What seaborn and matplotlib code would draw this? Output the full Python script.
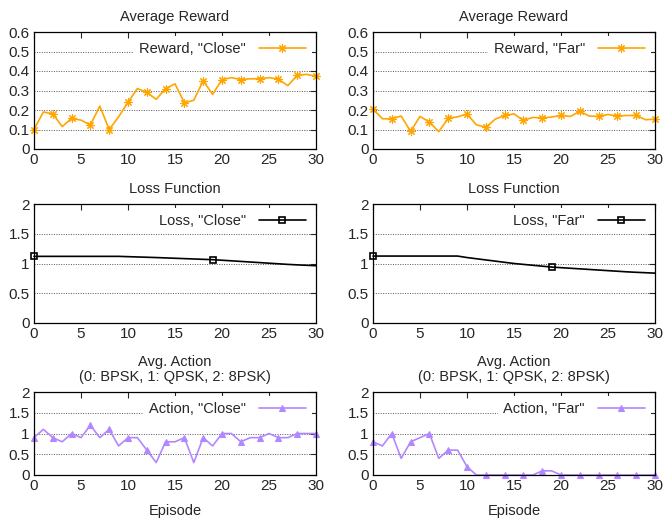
import numpy as np
import matplotlib
matplotlib.use("Agg")
import matplotlib.pyplot as plt
import pandas as pd
import seaborn as sns

episodes = list(range(31))

reward_close = [0.10, 0.19, 0.18, 0.115, 0.157, 0.148, 0.123, 0.22, 0.10, 0.165,
                0.24, 0.31, 0.29, 0.255, 0.31, 0.334, 0.237, 0.25, 0.35, 0.28,
                0.356, 0.366, 0.356, 0.36, 0.36, 0.366, 0.358, 0.325, 0.377, 0.383, 0.373]
reward_far = [0.205, 0.155, 0.155, 0.169, 0.09, 0.167, 0.138, 0.089, 0.157, 0.165,
              0.179, 0.124, 0.111, 0.153, 0.172, 0.18, 0.147, 0.162, 0.159, 0.164,
              0.172, 0.167, 0.193, 0.169, 0.167, 0.177, 0.169, 0.172, 0.172, 0.15, 0.153]

loss_close = [1.12, 1.12, 1.12, 1.12, 1.12, 1.12, 1.12, 1.12, 1.12, 1.12,
              1.115, 1.11, 1.105, 1.10, 1.094, 1.088, 1.082, 1.076, 1.07, 1.064,
              1.055, 1.045, 1.035, 1.025, 1.015, 1.005, 0.995, 0.985, 0.977, 0.97, 0.963]
loss_far = [1.125, 1.125, 1.125, 1.125, 1.125, 1.125, 1.125, 1.125, 1.125, 1.125,
            1.10, 1.08, 1.06, 1.04, 1.02, 1.0, 0.985, 0.97, 0.955, 0.94,
            0.93, 0.92, 0.91, 0.90, 0.89, 0.88, 0.87, 0.86, 0.852, 0.845, 0.838]

action_close = [0.9, 1.1, 0.9, 0.8, 1.0, 0.9, 1.2, 0.9, 1.1, 0.7,
                0.9, 0.9, 0.6, 0.3, 0.8, 0.8, 0.9, 0.3, 0.9, 0.7,
                1.0, 1.0, 0.8, 0.9, 0.9, 1.0, 0.9, 0.9, 1.0, 1.0, 1.0]
action_far = [0.8, 0.7, 1.0, 0.4, 0.8, 0.9, 1.0, 0.4, 0.6, 0.6,
              0.2, 0.0, 0.0, 0.0, 0.0, 0.0, 0.0, 0.0, 0.1, 0.1,
              0.0, 0.0, 0.0, 0.0, 0.0, 0.0, 0.0, 0.0, 0.0, 0.0, 0.0]

sns.set_style("white")
plt.rcParams['font.family'] = ['Liberation Sans', 'DejaVu Sans']
plt.rcParams['font.size'] = 10

orange = '#ffa500'
purple = '#b388ff'

fig = plt.figure(figsize=(6.63, 5.2), dpi=100)

lefts = [34 / 663, 373 / 663]
w = 282 / 663
rows = [(1 - 149 / 520, 117 / 520), (1 - 323 / 520, 119 / 520), (1 - 475 / 520, 83 / 520)]


def style_ax(ax, ymax, ystep, title, xlabel=None):
    ax.set_xlim(0, 30)
    ax.set_ylim(0, ymax)
    ax.set_xticks(range(0, 31, 5))
    yt = np.round(np.arange(0, ymax + ystep / 2, ystep), 2)
    ax.set_yticks(yt)
    ax.set_yticklabels([f"{v:g}" for v in yt])
    ax.tick_params(direction='in', top=True, right=True, length=4, width=0.8,
                   labelsize=11, pad=3)
    ax.yaxis.grid(True, linestyle=(0, (1, 1.5)), color='#555555', linewidth=0.7)
    ax.set_axisbelow(True)
    for s in ax.spines.values():
        s.set_color('black')
        s.set_linewidth(0.9)
    ax.set_title(title, fontsize=10.5, pad=8, linespacing=1.05)
    ax.set_xlabel(xlabel if xlabel else '', fontsize=10.5, labelpad=8)
    ax.set_ylabel('')
    leg = ax.legend(loc='upper right', markerfirst=False, frameon=True, fancybox=False,
                    handlelength=3.2, fontsize=10.5, borderaxespad=0.3, borderpad=0.4,
                    handletextpad=0.9)
    leg.get_frame().set_edgecolor('none')
    leg.get_frame().set_facecolor('white')
    leg.get_frame().set_alpha(1)


specs = [
    (reward_close, reward_far, 'Reward', orange, (8, 2, 0), 2, 0.6, 0.1, 'Average Reward'),
    (loss_close, loss_far, 'Loss', 'black', 's', [0, 19], 2, 0.5, 'Loss Function'),
    (action_close, action_far, 'Action', purple, '^', 2, 2, 0.5,
     'Avg. Action\n(0: BPSK, 1: QPSK, 2: 8PSK)'),
]

for r, (yc, yf, name, color, mk, every, ymax, ystep, title) in enumerate(specs):
    bottom, h = rows[r]
    for c, (vals, tag) in enumerate([(yc, 'Close'), (yf, 'Far')]):
        ax = fig.add_axes([lefts[c], bottom, w, h])
        df = pd.DataFrame({'Episode': episodes, 'value': vals})
        kw = dict(marker=mk, markevery=every, linewidth=1.2, color=color,
                  label=f'{name}, "{tag}"')
        if mk == 's':
            kw.update(markersize=5, markerfacecolor='none', markeredgecolor='black',
                      markeredgewidth=1.2)
        elif mk == '^':
            kw.update(markersize=5, markeredgecolor=color, markerfacecolor=color,
                      markeredgewidth=0.8)
        else:
            kw.update(markersize=6, markeredgecolor=color, markerfacecolor=color,
                      markeredgewidth=0.8)
        sns.lineplot(data=df, x='Episode', y='value', ax=ax, **kw)
        ax.lines[0].set_clip_on(False)
        style_ax(ax, ymax, ystep, title, 'Episode' if r == 2 else None)

fig.savefig('out.png', dpi=100)
